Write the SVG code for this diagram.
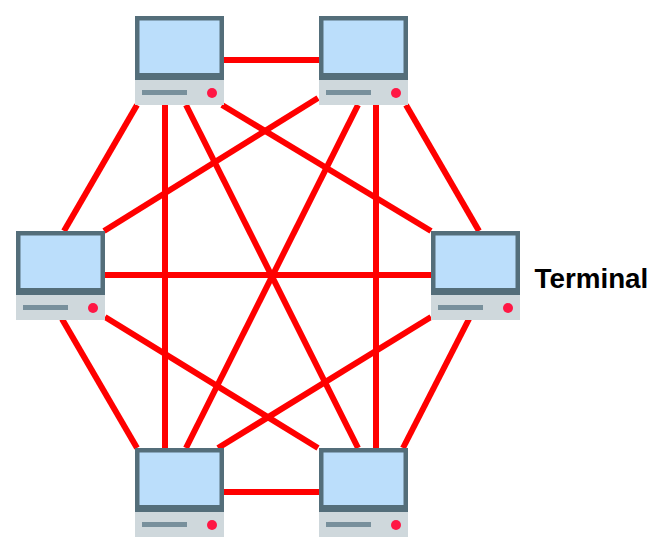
<svg xmlns="http://www.w3.org/2000/svg" width="666" height="552" viewBox="0 0 666 552">
<style>
.c{stroke:#ff0000;stroke-width:6;fill:none}
.m{fill:#546e7a}.s{fill:#bbdefb}.b{fill:#cfd8dc}.l{fill:#78909c}.d{fill:#ff1744}
text{font-family:"Liberation Sans",Arial,sans-serif;font-weight:bold;font-size:27.8px;fill:#000}
</style>
<defs>
<g id="pc">
<rect class="m" x="0" y="0" width="89" height="64"/>
<rect class="s" x="4.500" y="4.500" width="80" height="52.500"/>
<rect class="b" x="0" y="64" width="89" height="25"/>
<rect class="l" x="7" y="74" width="45" height="5"/>
<circle class="d" cx="77" cy="77" r="5"/>
</g>
</defs>
<g id="connectors">
<line class="c" x1="223" y1="60" x2="319" y2="60"/>
<line class="c" x1="223" y1="492" x2="319" y2="492"/>
<line class="c" x1="105" y1="275" x2="431" y2="275"/>
<line class="c" x1="165" y1="105" x2="165" y2="448"/>
<line class="c" x1="376" y1="105" x2="376" y2="448"/>
<line class="c" x1="137" y1="105" x2="64" y2="231"/>
<line class="c" x1="406" y1="105" x2="479" y2="231"/>
<line class="c" x1="62" y1="319" x2="137" y2="448"/>
<line class="c" x1="469" y1="319" x2="403" y2="448"/>
<line class="c" x1="186" y1="105" x2="358" y2="448"/>
<line class="c" x1="358" y1="105" x2="186" y2="448"/>
<line class="c" x1="222" y1="105" x2="431" y2="231"/>
<line class="c" x1="318" y1="98" x2="104" y2="231"/>
<line class="c" x1="105" y1="317" x2="318" y2="448"/>
<line class="c" x1="431" y1="317" x2="218" y2="448"/>
</g>
<g id="terminal-1"><use href="#pc" x="135" y="16"/></g>
<g id="terminal-2"><use href="#pc" x="319" y="16"/></g>
<g id="terminal-3"><use href="#pc" x="16" y="231"/></g>
<g id="terminal-4"><use href="#pc" x="431" y="231"/><text x="534.500" y="287.500">Terminal</text></g>
<g id="terminal-5"><use href="#pc" x="135" y="448"/></g>
<g id="terminal-6"><use href="#pc" x="319" y="448"/></g>
</svg>
